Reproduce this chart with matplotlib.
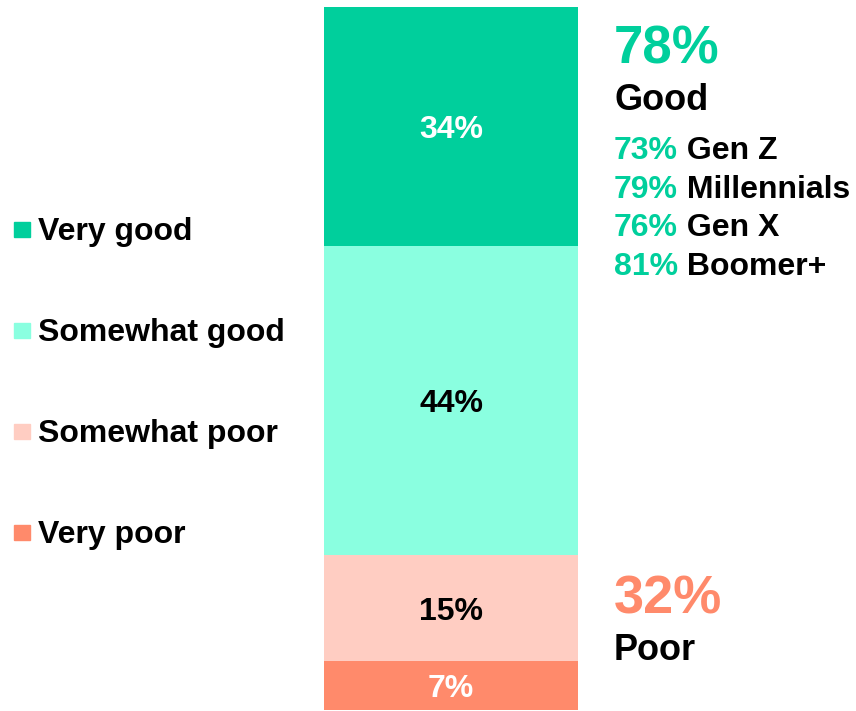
import matplotlib.pyplot as plt
from matplotlib.patches import Rectangle
import matplotlib as mpl

mpl.rcParams['font.family'] = ['Liberation Sans', 'DejaVu Sans']
mpl.rcParams['font.weight'] = 'bold'

# one stacked bar, top to bottom
categories = ['Very good', 'Somewhat good', 'Somewhat poor', 'Very poor']
values = [34, 44, 15, 7]
colours = ['#00CF9C', '#8AFFE0', '#FFCDC2', '#FF8A6B']
label_colours = ['white', 'black', 'black', 'white']

good_total = 78
poor_total = 32
generations = ['Gen Z', 'Millennials', 'Gen X', 'Boomer+']
gen_good = [73, 79, 76, 81]

W, H = 856, 711
fig = plt.figure(figsize=(W / 100, H / 100), dpi=100)


def fx(x):
    return x / W


def fy(y):
    return 1 - y / H


ax = fig.add_axes([fx(324), fy(710), fx(578) - fx(324), fy(7) - fy(710)])
bottom = sum(values)
for cat, val, col, lc in zip(categories, values, colours, label_colours):
    bottom -= val
    ax.bar(0, val, bottom=bottom, width=1, color=col, edgecolor='none')
    ax.text(0, bottom + val / 2, '%d%%' % val, ha='center', va='center_baseline',
            fontsize=23, color=lc, fontweight='bold')
ax.set_xlim(-0.5, 0.5)
ax.set_ylim(0, sum(values))
ax.axis('off')

# legend on the left
for i, (cat, col) in enumerate(zip(categories, colours)):
    base = 240 + i * 101
    fig.patches.append(Rectangle((fx(14), fy(base - 3)), fx(16), fy(0) - fy(15),
                                 transform=fig.transFigure, color=col))
    fig.text(fx(38), fy(base), cat, fontsize=23, va='baseline', ha='left')

# summary on the right
green = colours[0]
salmon = colours[3]
fig.text(fx(614), fy(63), '%d%%' % good_total, fontsize=38, color=green,
         va='baseline', ha='left')
fig.text(fx(614), fy(110), 'Good', fontsize=26, va='baseline', ha='left')
for i, (gen, pct) in enumerate(zip(generations, gen_good)):
    base = 159 + i * 38.5
    t = fig.text(fx(614), fy(base), '%d%%' % pct, fontsize=23, color=green,
                 va='baseline', ha='left')
    ax.annotate(' ' + gen, xy=(1, 0), xycoords=t, fontsize=23, color='black',
                va='bottom', ha='left', annotation_clip=False)

fig.text(fx(614), fy(613), '%d%%' % poor_total, fontsize=39, color=salmon,
         va='baseline', ha='left')
fig.text(fx(614), fy(660), 'Poor', fontsize=26, va='baseline', ha='left')

fig.savefig('out.png', dpi=100)
